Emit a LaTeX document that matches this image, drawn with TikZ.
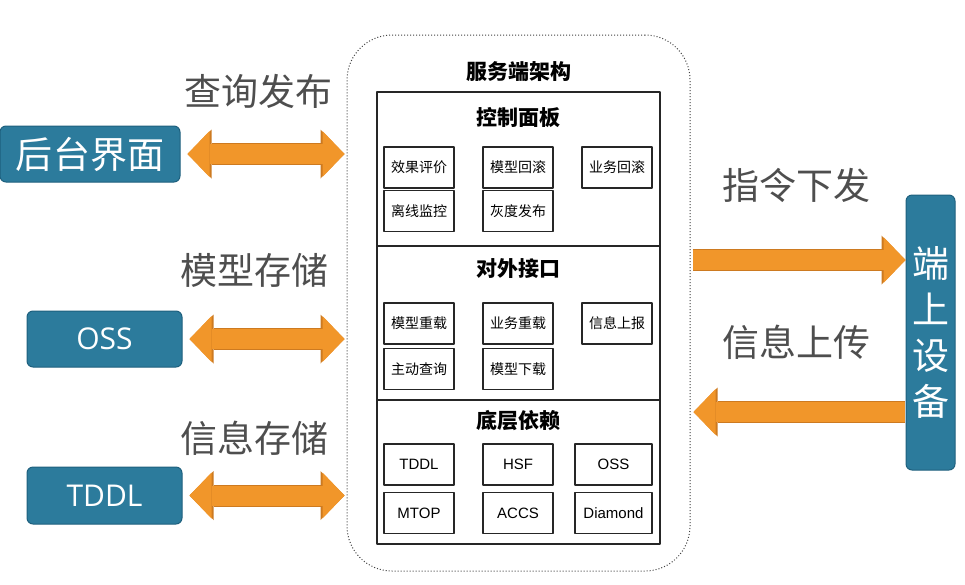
\documentclass[tikz,border=0pt]{standalone}
\usepackage{fontspec}
\setmainfont{Noto Sans CJK SC}
\newfontfamily\latinfont{Liberation Sans}
\newfontfamily\sidefont{Open Sans}
\usepackage{xcolor}
\usetikzlibrary{arrows.meta,positioning,calc}

\definecolor{devteal}{RGB}{44,123,156}
\definecolor{devedge}{RGB}{30,96,126}
\definecolor{arrorange}{RGB}{241,150,42}
\definecolor{arredge}{RGB}{205,122,32}
\definecolor{labelgray}{RGB}{78,78,78}

\tikzset{
  fattip/.tip={Triangle[length=22pt,width=46pt,line width=0pt]},
  edgetip/.tip={Triangle[length=24pt,width=49pt,line width=0pt]}
}

\begin{document}
\begin{tikzpicture}[x=1pt,y=-1pt,line join=round,
    sidebox/.style={draw=devedge,fill=devteal,rounded corners=6pt,line width=1pt,
      text=white,inner sep=0pt},
    item/.style={draw=black!85,line width=1.1pt,minimum width=70pt,minimum height=41pt,
      inner sep=0pt,font=\fontsize{14}{16}\selectfont},
    dep/.style={item,font=\latinfont\fontsize{15}{17}\selectfont},
    headline/.style={font=\fontsize{21}{24}\selectfont\bfseries},
    biglabel/.style={text=labelgray,font=\fontsize{37}{40}\selectfont},
    onearrow/.style={draw=arrorange,line width=20pt,-{fattip},
      preaction={draw=arredge,line width=22pt,-{edgetip}}},
    twoarrow/.style={draw=arrorange,line width=20pt,{fattip}-{fattip},
      preaction={draw=arredge,line width=22pt,{edgetip}-{edgetip}}}]
  \useasboundingbox (0,0) rectangle (965,584);

  % server side frame
  \node[draw=black!75,dotted,line width=1pt,rounded corners=45pt,
    minimum width=343pt,minimum height=536pt] (main) at (518.5,303) {};
  \node[headline] (title) at (518.5,72) {服务端架构};
  \node[draw=black!85,line width=1.4pt,minimum width=283pt,minimum height=452pt]
    (core) at (518.5,318) {};
  \coordinate (cut1) at (0,246);
  \coordinate (cut2) at (0,400);
  \draw[line width=2pt,black!85] (cut1 -| core.west) -- (cut1 -| core.east);
  \draw[line width=2pt,black!85] (cut2 -| core.west) -- (cut2 -| core.east);

  % control panel
  \node[headline] (ctrl) at (518.5,118) {控制面板};
  \node[item] (evalbox) at (419,167.5) {效果评价};
  \node[item] (rollmodel) at (518,167.5) {模型回滚};
  \node[item] (rollbiz) at (617,167.5) {业务回滚};
  \node[item] (monitor) at (419,211) {离线监控};
  \node[item] (gray) at (518,211) {灰度发布};

  % external interface
  \node[headline] (iface) at (518.5,269) {对外接口};
  \node[item] (reloadmodel) at (419,323.5) {模型重载};
  \node[item] (reloadbiz) at (518,323.5) {业务重载};
  \node[item] (report) at (617,323.5) {信息上报};
  \node[item] (query) at (419,369) {主动查询};
  \node[item] (download) at (518,369) {模型下载};

  % dependencies
  \node[headline] (deps) at (518.5,421) {底层依赖};
  \node[dep] (tddl) at (419,464.5) {TDDL};
  \node[dep] (hsf) at (518,464.5) {HSF};
  \node[dep,minimum width=77pt] (oss) at (613.5,464.5) {OSS};
  \node[dep] (mtop) at (419,513) {MTOP};
  \node[dep] (accs) at (518,513) {ACCS};
  \node[dep,minimum width=77pt] (diamond) at (613.5,513) {Diamond};

  % left side
  \node[sidebox,minimum width=180pt,minimum height=56pt,font=\fontsize{37}{40}\selectfont]
    (back) at (90,154) {后台界面};
  \node[sidebox,minimum width=155pt,minimum height=56pt,font=\sidefont\fontsize{30}{34}\selectfont]
    (store) at (104.5,339) {OSS};
  \node[sidebox,minimum width=155pt,minimum height=57pt,font=\sidefont\fontsize{30}{34}\selectfont]
    (db) at (104.5,495.5) {TDDL};

  \draw[twoarrow,shorten <=7pt,shorten >=2pt] (back.east) -- (back.east -| main.west);
  \draw[twoarrow,shorten <=7pt,shorten >=2pt] (store.east) -- (store.east -| main.west);
  \draw[twoarrow,shorten <=7pt,shorten >=2pt] (db.east) -- (db.east -| main.west);

  \node[biglabel] (lbquery) at (258,91) {查询发布};
  \node[biglabel] (lbmodel) at (254,270) {模型存储};
  \node[biglabel] (lbinfo) at (254,438) {信息存储};

  % device side
  \node[sidebox,minimum width=49pt,minimum height=275pt,align=center,
    font=\fontsize{37}{46}\selectfont] (dev) at (930.5,332.5) {端\\上\\设\\备};
  \coordinate (cmd) at (0,260);
  \coordinate (up) at (0,412);
  \draw[onearrow,shorten <=2pt] (cmd -| main.east) -- (cmd -| dev.west);
  \draw[onearrow,shorten <=1pt,shorten >=3pt] (up -| dev.west) -- (up -| main.east);

  \node[biglabel] (lbcmd) at (796,185) {指令下发};
  \node[biglabel] (lbup) at (796,342) {信息上传};
\end{tikzpicture}
\end{document}
